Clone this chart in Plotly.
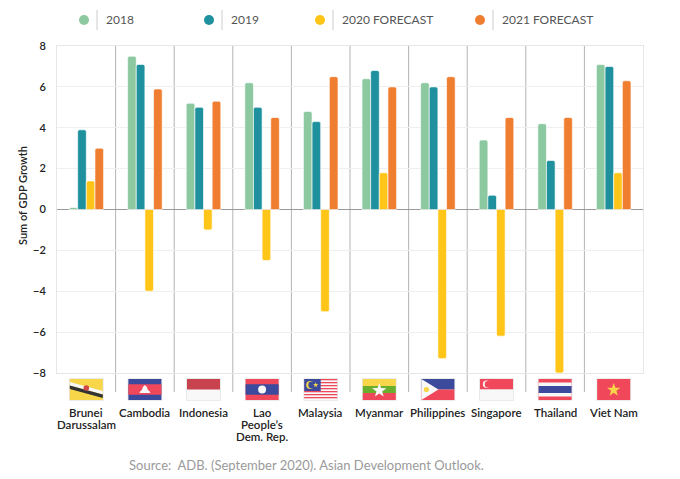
import math
import plotly.graph_objects as go

# Data
countries = ["Brunei<br>Darussalam", "Cambodia", "Indonesia", "Lao<br>People’s<br>Dem. Rep.",
             "Malaysia", "Myanmar", "Philippines", "Singapore", "Thailand", "Viet Nam"]
series_names = ["2018", "2019", "2020 FORECAST", "2021 FORECAST"]
gdp_2018 = [0.1, 7.5, 5.2, 6.2, 4.8, 6.4, 6.2, 3.4, 4.2, 7.1]
gdp_2019 = [3.9, 7.1, 5.0, 5.0, 4.3, 6.8, 6.0, 0.7, 2.4, 7.0]
gdp_2020 = [1.4, -4.0, -1.0, -2.5, -5.0, 1.8, -7.3, -6.2, -8.0, 1.8]
gdp_2021 = [3.0, 5.9, 5.3, 4.5, 6.5, 6.0, 6.5, 4.5, 4.5, 6.3]
y_ticks = [-8, -6, -4, -2, 0, 2, 4, 6, 8]

colors = ["#8CC8A0", "#1E909E", "#FFC619", "#F07E31"]
FONT = "Lato"

# figure geometry (px)
L, R, T, B = 57, 37, 46, 106
W = 680 - L - R
H = 479 - T - B
n = len(countries)

fig = go.Figure()
for name, vals, col in zip(series_names, [gdp_2018, gdp_2019, gdp_2020, gdp_2021], colors):
    fig.add_trace(go.Bar(
        x=countries, y=vals, name=name,
        marker=dict(color=col, line=dict(color="rgba(255,255,255,0.8)", width=0.8), cornerradius=2),
        showlegend=False,
    ))

shapes = []
annotations = []

# category separators (extend below plot, behind flags)
for i in range(1, n):
    shapes.append(dict(type="line", xref="paper", yref="paper",
                       x0=i / n, x1=i / n, y0=1, y1=-19 / H,
                       line=dict(color="#b4b4b4", width=1), layer="below"))

# category labels, one annotation per line so the line spacing stays tight
for i, lab in enumerate(countries):
    for k, part in enumerate(lab.split("<br>")):
        annotations.append(dict(text=part, xref="paper", yref="paper",
                                x=(i + 0.5) / n, y=(T + H - (412 + 12 * k)) / H,
                                xanchor="center", yanchor="middle", showarrow=False,
                                font=dict(family=FONT, size=11.5, color="#222222", weight=600)))


# --- simplified flags drawn with shapes ---
FW, FH = 33, 21


def px_x(i, u):
    cx = (i + 0.5) * W / n
    return (cx - FW / 2 + u) / W


def px_y(v):
    return (-6 - v) / H


def rect(i, u0, v0, u1, v1, col):
    shapes.append(dict(type="rect", xref="paper", yref="paper",
                       x0=px_x(i, u0), x1=px_x(i, u1), y0=px_y(v0), y1=px_y(v1),
                       fillcolor=col, line=dict(width=0)))


def circle(i, uc, vc, r, col):
    shapes.append(dict(type="circle", xref="paper", yref="paper",
                       x0=px_x(i, uc - r), x1=px_x(i, uc + r), y0=px_y(vc - r), y1=px_y(vc + r),
                       fillcolor=col, line=dict(width=0)))


def poly(i, pts, col):
    path = "M " + " L ".join(f"{px_x(i, u):.5f},{px_y(v):.5f}" for u, v in pts) + " Z"
    shapes.append(dict(type="path", xref="paper", yref="paper", path=path,
                       fillcolor=col, line=dict(width=0)))


def star(i, uc, vc, ro, col):
    ri = ro * 0.40
    pts = []
    for k in range(10):
        a = -math.pi / 2 + k * math.pi / 5
        rr = ro if k % 2 == 0 else ri
        pts.append((uc + rr * math.cos(a), vc + rr * math.sin(a)))
    poly(i, pts, col)


RED = "#F0485A"
BLUE = "#3B4A9C"
WHITE = "#F8F8F8"
YEL = "#F7D64A"

# shadow / border behind every flag
for i in range(n):
    rect(i, -0.8, -0.8, FW + 0.8, FH + 0.8, "#e4e4e4")

# Brunei
rect(0, 0, 0, FW, FH, YEL)
poly(0, [(0, 3), (FW, 12), (FW, 15.5), (0, 6.5)], WHITE)
poly(0, [(0, 6.5), (FW, 15.5), (FW, 19), (0, 10)], "#333333")
circle(0, 16.5, 9, 2.8, "#D24848")
# Cambodia
rect(1, 0, 0, FW, FH, BLUE)
rect(1, 0, 5.25, FW, 15.75, RED)
poly(1, [(11, 14), (22, 14), (21, 12), (19.5, 11), (18.5, 8), (16.5, 6), (14.5, 8), (13.5, 11), (12, 12)], WHITE)
# Indonesia
rect(2, 0, 0, FW, FH, WHITE)
rect(2, 0, 0, FW, 10.5, "#C8434E")
# Lao
rect(3, 0, 0, FW, FH, RED)
rect(3, 0, 5.25, FW, 15.75, BLUE)
circle(3, 16.5, 10.5, 4, WHITE)
# Malaysia
for k in range(14):
    rect(4, 0, k * 1.5, FW, (k + 1) * 1.5, RED if k % 2 == 0 else WHITE)
rect(4, 0, 0, 16.5, 12, BLUE)
circle(4, 6, 6, 4, YEL)
circle(4, 7.5, 6, 3.4, BLUE)
star(4, 11.5, 6, 2.8, YEL)
# Myanmar
rect(5, 0, 0, FW, 7, YEL)
rect(5, 0, 7, FW, 14, "#6BAE2E")
rect(5, 0, 14, FW, FH, RED)
star(5, 16.5, 11.5, 7.5, WHITE)
# Philippines
rect(6, 0, 0, FW, 10.5, BLUE)
rect(6, 0, 10.5, FW, FH, RED)
poly(6, [(0, 0), (17, 10.5), (0, FH)], WHITE)
circle(6, 5, 10.5, 2.6, YEL)
# Singapore
rect(7, 0, 0, FW, 10.5, RED)
rect(7, 0, 10.5, FW, FH, WHITE)
circle(7, 6.5, 5.2, 3.6, WHITE)
circle(7, 8, 5.2, 3.3, RED)
# Thailand
rect(8, 0, 0, FW, FH, RED)
rect(8, 0, 3.5, FW, 17.5, WHITE)
rect(8, 0, 7, FW, 14, BLUE)
# Viet Nam
rect(9, 0, 0, FW, FH, RED)
star(9, 16.5, 11, 7, YEL)

# --- custom legend (circle, divider, label) ---
legend_x = [84, 209, 320, 480]
ypx = 20
for name, col, lx in zip(series_names, colors, legend_x):
    shapes.append(dict(type="circle", xref="paper", yref="paper",
                       x0=(lx - 5 - L) / W, x1=(lx + 5 - L) / W,
                       y0=(479 - B - ypx - 5) / H, y1=(479 - B - ypx + 5) / H,
                       fillcolor=col, line=dict(width=0)))
    shapes.append(dict(type="line", xref="paper", yref="paper",
                       x0=(lx + 13 - L) / W, x1=(lx + 13 - L) / W,
                       y0=(479 - B - 10) / H, y1=(479 - B - 30) / H,
                       line=dict(color="#cccccc", width=1)))
    annotations.append(dict(text=name, xref="paper", yref="paper",
                            x=(lx + 20 - L) / W, y=(479 - B - ypx) / H,
                            xanchor="left", yanchor="middle", showarrow=False,
                            font=dict(family=FONT, size=12, color="#555555")))

# y axis title
annotations.append(dict(text="Sum of GDP Growth", xref="paper", yref="paper",
                        x=(22 - L) / W, y=(373 - 196) / H, textangle=-90,
                        xanchor="center", yanchor="middle", showarrow=False,
                        font=dict(family=FONT, size=11, color="#222222", weight=600)))
# source
annotations.append(dict(text="Source:  ADB. (September 2020). Asian Development Outlook.",
                        xref="paper", yref="paper", x=(306 - L) / W, y=(373 - 465) / H,
                        xanchor="center", yanchor="middle", showarrow=False,
                        font=dict(family=FONT, size=13, color="#9a9a9a")))

fig.update_layout(
    width=680, height=479,
    margin=dict(l=L, r=R, t=T, b=B, pad=0),
    paper_bgcolor="white", plot_bgcolor="white",
    barmode="group", bargap=0.41, bargroupgap=0,
    shapes=shapes, annotations=annotations,
    font=dict(family=FONT, color="#222222"),
)
fig.update_xaxes(
    showgrid=False, showline=True, linecolor="#e6e6e6", mirror=True,
    ticks="", showticklabels=False, fixedrange=True,
)
fig.update_yaxes(
    range=[-8, 8], tickvals=y_ticks, showgrid=True, gridcolor="#efefef",
    zeroline=True, zerolinecolor="#9a9a9a", zerolinewidth=1,
    showline=True, linecolor="#e6e6e6", mirror=True,
    tickfont=dict(family=FONT, size=11, color="#222222", weight=600),
    ticklabelstandoff=8, fixedrange=True,
)

# page body has a default margin; drop it so the figure fills the window
fig.write_html("out.html", config={"displayModeBar": False},
               post_script="document.body.style.margin='0';")
